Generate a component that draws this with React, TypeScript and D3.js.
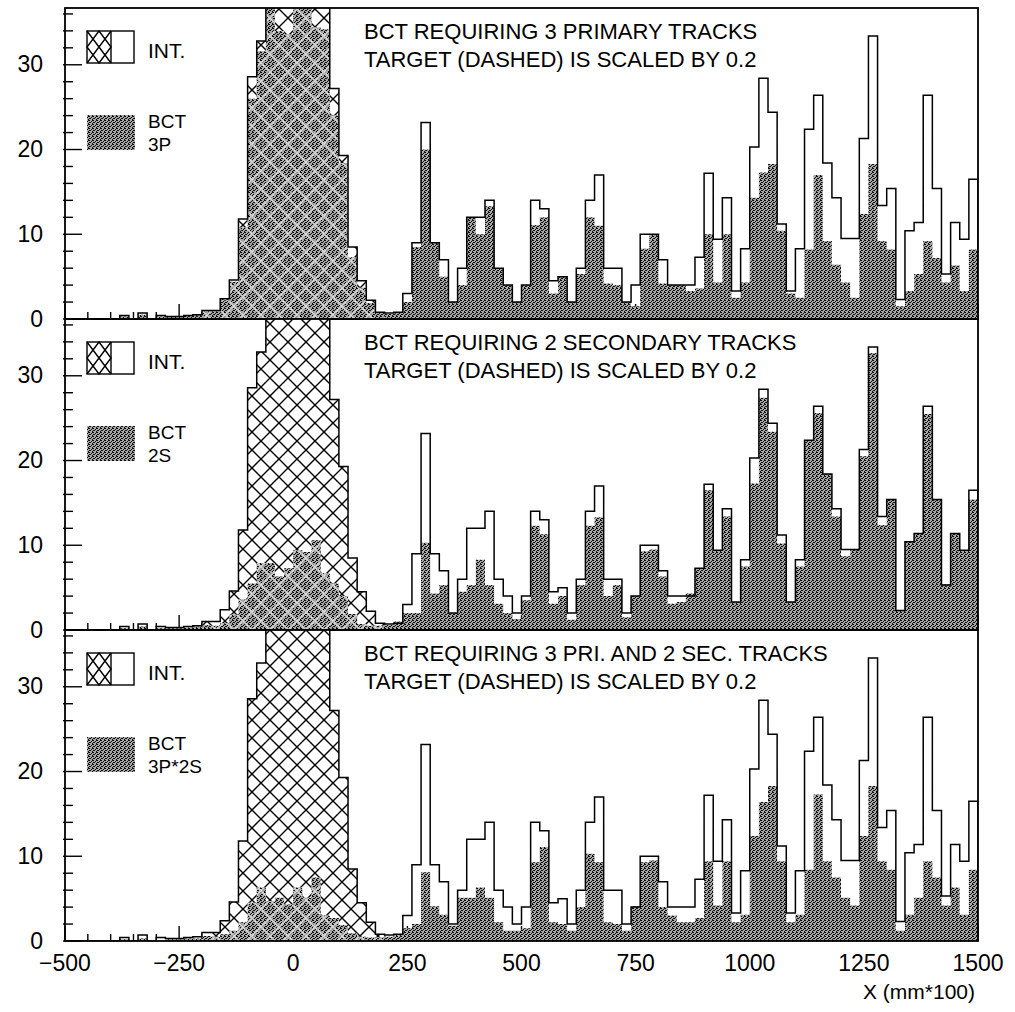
import React from "react";
import * as d3 from "d3";

// ---------------- data ----------------
const BIN_START = -500;
const BIN_WIDTH = 20;
const X_MIN = -500;
const X_MAX = 1500;
const Y_MAX = 36.7;
const TARGET_FROM = -200;
const TARGET_TO = 200;

// interaction histogram (target part scaled by 0.2), same in every panel
const intCounts = [
  0, 0, 0, 0, 0, 0, 0.4, 0, 0.7, 0,
  0.4, 0.3, 0.3, 0.4, 0.5, 1.0, 1.0, 2.4, 4.6, 11.8,
  28.6, 32.8, 39, 38, 37.5, 40, 42, 41, 39, 27.2,
  19.3, 8.5, 4.5, 2.2, 0.8, 0.7, 0.8, 3, 9, 23.2,
  9, 7, 2, 6, 12, 12, 14, 6, 4, 2,
  4, 14, 13, 4.5, 5, 2, 6, 14, 17, 6,
  6, 2, 4, 10, 10, 7, 4, 4, 4, 7.3,
  17.2, 9.4, 14.3, 3.3, 8.3, 20.3, 28.4, 24.4, 11.2, 3.3,
  8.3, 22.4, 26.4, 18.4, 14.3, 9.5, 9.5, 21.3, 33.4, 13.4,
  15.4, 2.3, 10.4, 11.4, 26.4, 15.4, 5.3, 11.4, 9.4, 16.5,
];

const bct3P = [
  0, 0, 0, 0, 0, 0, 0.3, 0, 0.5, 0,
  0.3, 0.3, 0.3, 0.4, 0.5, 0.9, 0.9, 2.2, 4.4, 10.8,
  26, 31.6, 38, 34, 33.6, 37, 37, 34.4, 34.2, 24,
  18.4, 7.3, 3.7, 1.9, 0.7, 0.6, 0.7, 2, 8.5, 20,
  9, 5, 2, 4, 12, 10, 13.3, 6, 4, 2,
  4, 11.1, 12, 3, 5, 2, 5.3, 12, 11, 4.2,
  4, 2, 1.5, 8.3, 10, 4.2, 4, 4, 3.3, 3.6,
  10, 4.3, 10, 2.5, 4.3, 14.3, 17.3, 18.3, 10.4, 3,
  2.5, 8.2, 17, 9.2, 6.4, 4.3, 2.5, 12.4, 18.3, 9.2,
  8.2, 1.5, 3.3, 5.3, 9.2, 7.2, 4.3, 6.3, 3.3, 8.2,
];

const bct2S = [
  0, 0, 0, 0, 0, 0, 0.2, 0, 0.4, 0,
  0.2, 0.2, 0.2, 0.3, 0.4, 0.6, 0.5, 0.8, 1.8, 3.6,
  5.5, 7.9, 7.9, 6.3, 7.3, 9.4, 9.2, 10.6, 6.7, 5.5,
  4.0, 1.9, 0.7, 0.5, 0.5, 0.6, 1, 2, 2, 10.3,
  4.3, 5.3, 2, 4.5, 5.3, 8.3, 5.3, 3.1, 2, 1.3,
  3.5, 12.3, 11.3, 3.1, 4, 1.2, 5.3, 12.3, 13.3, 4,
  5.3, 1.5, 4, 9.3, 9.5, 6.3, 3.1, 3.3, 4.3, 7.3,
  16.5, 9.4, 13.4, 3.3, 7.5, 17.3, 27.4, 23.4, 10.2, 3.3,
  7.5, 22.4, 25.6, 18.4, 13.4, 8.7, 9.5, 20.5, 32.7, 12.4,
  15.4, 2.3, 10.4, 11.4, 25.5, 15.4, 5.4, 11.4, 9.4, 15.4,
];

const bct3P2S = [
  0, 0, 0, 0, 0, 0, 0.2, 0, 0.3, 0,
  0, 0.2, 0.2, 0.3, 0.3, 0.6, 0.5, 0.8, 1.2, 2.2,
  4.5, 6.3, 4.7, 5.1, 4.3, 6.3, 5.1, 7.5, 3.0, 2.7,
  1.9, 0.9, 0.5, 0.4, 0.4, 0.5, 0.8, 1.5, 2, 8.1,
  4.1, 3.1, 1.8, 5.1, 5.1, 6.3, 5.1, 2.2, 1.2, 1.2,
  1.5, 9.3, 11.1, 2.2, 2, 1.2, 4, 10.3, 9.3, 2.2,
  2, 1.2, 4.1, 9.3, 9.5, 4, 3, 2.2, 2.2, 2.7,
  9.4, 4.2, 9.4, 2.2, 3.1, 12.4, 16.4, 18.3, 9.4, 2.2,
  3.1, 8.4, 17.3, 9.4, 7.5, 5.1, 4.2, 12.4, 18.3, 9.4,
  8.4, 1.2, 3.1, 5.1, 9.4, 7.5, 4.2, 6.3, 3.1, 8.4,
];

const xTickLabels = [-500, -250, 0, 250, 500, 750, 1000, 1250, 1500];
const yTickLabels = [0, 10, 20, 30];
const titleLines = [
  "BCT REQUIRING 3 PRIMARY TRACKS",
  "BCT REQUIRING 2 SECONDARY TRACKS",
  "BCT REQUIRING 3 PRI. AND 2 SEC. TRACKS",
];
const subTitle = "TARGET (DASHED) IS SCALED BY 0.2";
const legendSecond = ["3P", "2S", "3P*2S"];
const xAxisTitle = "X (mm*100)";

// ---------------- layout ----------------
const W = 1015;
const H = 1012;
const LEFT = 65;
const RIGHT = 978;
const PANEL_TOPS = [8, 319, 630];
const PANEL_H = 311;
const FONT = "'Liberation Sans', Arial, Helvetica, sans-serif";

type Pt = [number, number];

function stepPoints(values: number[], from = -Infinity, to = Infinity): Pt[] {
  const pts: Pt[] = [];
  values.forEach((v, i) => {
    const x0 = BIN_START + i * BIN_WIDTH;
    const x1 = x0 + BIN_WIDTH;
    if (x0 >= from && x1 <= to) {
      pts.push([x0, v], [x1, v]);
    }
  });
  return pts;
}

const x = d3.scaleLinear().domain([X_MIN, X_MAX]).range([LEFT, RIGHT]);

function Panel({ idx, values }: { idx: number; values: number[] }) {
  const top = PANEL_TOPS[idx];
  const bottom = top + PANEL_H;
  const y = d3.scaleLinear().domain([0, Y_MAX]).range([bottom, top]);

  const area = d3
    .area<Pt>()
    .x((d) => x(d[0]))
    .y0(y(0))
    .y1((d) => y(Math.max(0, d[1])));
  const line = d3
    .line<Pt>()
    .x((d) => x(d[0]))
    .y((d) => y(d[1]));

  const intPts = stepPoints(intCounts);
  const targetPts = stepPoints(intCounts, TARGET_FROM, TARGET_TO);
  const bctPts = stepPoints(values);

  const intOutline = line([[X_MIN, 0], ...intPts, [X_MAX, 0]]) || "";
  const targetArea = area(targetPts) || "";
  const bctArea = area(bctPts) || "";

  const xMinor = d3.range(X_MIN, X_MAX + 1, 50);
  const yMinor = d3.range(0, Y_MAX, 2);

  return (
    <g>
      <defs>
        <clipPath id={`panel-clip-${idx}`}>
          <rect x={LEFT} y={top} width={RIGHT - LEFT} height={PANEL_H} />
        </clipPath>
        <clipPath id={`bct-clip-${idx}`}>
          <path d={bctArea} />
        </clipPath>
      </defs>

      {/* ticks */}
      <g stroke="#000" strokeWidth={1.4}>
        {xMinor.map((t) => {
          const major = t % 250 === 0;
          return (
            <line key={`xt${t}`} x1={x(t)} x2={x(t)} y1={bottom} y2={bottom - (major ? 15 : 7)} />
          );
        })}
        {yMinor.map((t) => {
          const major = t % 10 === 0;
          return (
            <line key={`yt${t}`} x1={LEFT - 2} x2={LEFT + (major ? 17 : 8)} y1={y(t)} y2={y(t)} />
          );
        })}
      </g>

      <g clipPath={`url(#panel-clip-${idx})`}>
        <path d={targetArea} fill="url(#xhatch)" />
        <path d={bctArea} fill="url(#bctfill)" />
        <g clipPath={`url(#bct-clip-${idx})`}>
          <path d={targetArea} fill="url(#xhatchLight)" />
        </g>
        <path d={intOutline} fill="none" stroke="#000" strokeWidth={1.5} />
      </g>

      <rect x={LEFT} y={top} width={RIGHT - LEFT} height={PANEL_H} fill="none" stroke="#000" strokeWidth={1.8} />

      {/* y tick labels */}
      {yTickLabels.map((t) => (
        <text
          key={`yl${t}`}
          x={43}
          y={y(t)}
          dy="0.33em"
          textAnchor="end"
          fontFamily={FONT}
          fontSize={23}
          fill="#000"
        >
          {t}
        </text>
      ))}

      {/* legend */}
      <g stroke="#000" strokeWidth={1.4} fill="none">
        <rect x={87} y={top + 23} width={47} height={32} fill="#fff" />
        <line x1={111} x2={111} y1={top + 23} y2={top + 55} />
        <path
          d={`M87,${top + 23}L111,${top + 55}M111,${top + 23}L87,${top + 55}M99,${top + 23}L111,${top + 39}L99,${top + 55}L87,${top + 39}Z`}
        />
      </g>
      <text x={148} y={top + 50} fontFamily={FONT} fontSize={21} fill="#000">
        INT.
      </text>
      <rect x={87} y={top + 107} width={48} height={35} fill="url(#bctfill)" />
      <text x={148} y={top + 120} fontFamily={FONT} fontSize={19} fill="#000">
        BCT
      </text>
      <text x={148} y={top + 143} fontFamily={FONT} fontSize={19} fill="#000">
        {legendSecond[idx]}
      </text>

      {/* titles */}
      <text x={364} y={top + 31} fontFamily={FONT} fontSize={22} fill="#000">
        {titleLines[idx]}
      </text>
      <text x={364} y={top + 59} fontFamily={FONT} fontSize={22} fill="#000">
        {subTitle}
      </text>
    </g>
  );
}

export default function App() {
  const panelValues = [bct3P, bct2S, bct3P2S];
  const lastBottom = PANEL_TOPS[2] + PANEL_H;
  return (
    <svg
      width={W}
      height={H}
      viewBox={`0 0 ${W} ${H}`}
      style={{ position: "absolute", left: 0, top: 0, background: "#fff" }}
    >
      <defs>
        <pattern id="xhatch" patternUnits="userSpaceOnUse" width={18} height={18}>
          <rect width={18} height={18} fill="#fff" />
          <path
            d="M0,0L18,18M18,0L0,18M-2,16L2,20M16,-2L20,2M-2,2L2,-2M16,20L20,16"
            stroke="#000"
            strokeWidth={1.4}
          />
        </pattern>
        <pattern id="xhatchLight" patternUnits="userSpaceOnUse" width={18} height={18}>
          <path
            d="M0,0L18,18M18,0L0,18M-2,16L2,20M16,-2L20,2M-2,2L2,-2M16,20L20,16"
            stroke="#d4d4d4"
            strokeWidth={1.6}
          />
        </pattern>
        <pattern id="bctfill" patternUnits="userSpaceOnUse" width={4} height={4}>
          <rect width={4} height={4} fill="#a6a6a6" />
          <g fill="#111" shapeRendering="crispEdges">
            <rect x={0} y={0} width={2} height={1} />
            <rect x={3} y={1} width={1} height={1} />
            <rect x={1} y={2} width={2} height={1} />
            <rect x={0} y={3} width={1} height={1} />
          </g>
        </pattern>
      </defs>
      <rect width={W} height={H} fill="#fff" />
      {panelValues.map((v, i) => (
        <Panel key={i} idx={i} values={v} />
      ))}
      {xTickLabels.map((t) => (
        <text
          key={`xl${t}`}
          x={x(t)}
          y={lastBottom + 30}
          textAnchor="middle"
          fontFamily={FONT}
          fontSize={23}
          fill="#000"
        >
          {t < 0 ? `\u2212${Math.abs(t)}` : t}
        </text>
      ))}
      <text x={975} y={999} textAnchor="end" fontFamily={FONT} fontSize={21} fill="#000">
        {xAxisTitle}
      </text>
    </svg>
  );
}
